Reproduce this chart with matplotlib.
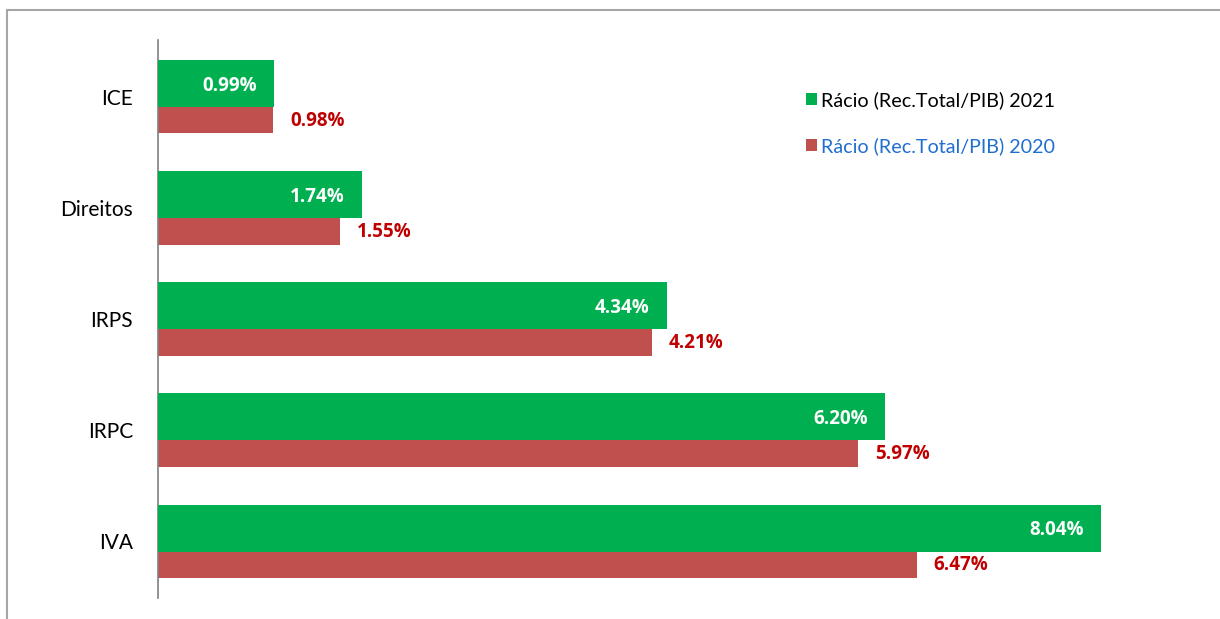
import matplotlib
matplotlib.use("Agg")
import matplotlib.pyplot as plt
from matplotlib.lines import Line2D
from matplotlib.patches import Patch
import numpy as np

categories = ["ICE", "Direitos", "IRPS", "IRPC", "IVA"]
vals_2021 = [0.99, 1.74, 4.34, 6.20, 8.04]
vals_2020 = [0.98, 1.55, 4.21, 5.97, 6.47]
labels_2021 = ["0.99%", "1.74%", "4.34%", "6.20%", "8.04%"]
labels_2020 = ["0.98%", "1.55%", "4.21%", "5.97%", "6.47%"]
series_names = ["Rácio (Rec.Total/PIB) 2021", "Rácio (Rec.Total/PIB) 2020"]

GREEN = "#00B050"
RED = "#C0504D"
DARKRED = "#C00000"
BLUE = "#1F6FD0"
FONT = "Lato"
BFONT = ["Open Sans", "DejaVu Sans"]

W, H = 1220, 619
fig = plt.figure(figsize=(W / 100, H / 100), dpi=100)
left_px, right_px = 158, 158 + 9 * 117.25
top_px, bot_px = 40, 598
ax = fig.add_axes([left_px / W, (H - bot_px) / H, (right_px - left_px) / W, (bot_px - top_px) / H])

n = len(categories)
y = np.arange(n)[::-1].astype(float)  # ICE at top
bh = 0.423
off = 0.119

ax.barh(y - off, vals_2020, height=bh, color=RED, zorder=2, label=series_names[1])
ax.barh(y + off, vals_2021, height=bh, color=GREEN, zorder=3, label=series_names[0])

pad_units = 17 / 117.25
for yi, v, t in zip(y, vals_2021, labels_2021):
    ax.text(v - pad_units, yi + off - 0.02, t, ha="right", va="center", color="white",
            fontsize=13.5, fontweight="bold", family=BFONT, zorder=4)
for yi, v, t in zip(y, vals_2020, labels_2020):
    ax.text(v + pad_units, yi - 0.215, t, ha="left", va="center", color=DARKRED,
            fontsize=13.5, fontweight="bold", family=BFONT, zorder=4)

ax.set_xlim(0, 9)
ax.set_ylim(-0.51, 4.51)
ax.set_yticks(y)
ax.set_yticklabels(categories, family=FONT, fontsize=15)
ax.tick_params(axis="y", length=0, pad=18)
ax.set_xticks([])
for s in ["top", "right", "bottom"]:
    ax.spines[s].set_visible(False)
ax.spines["left"].set_color("#808080")
ax.spines["left"].set_linewidth(1.2)

handles = [Patch(facecolor=GREEN, edgecolor="none"), Patch(facecolor=RED, edgecolor="none")]
leg = fig.legend(handles, series_names, loc="upper left",
                 bbox_to_anchor=(806 / W, (H - 91) / H), bbox_transform=fig.transFigure,
                 frameon=False, prop={"family": FONT, "size": 14.2},
                 handlelength=0.55, handleheight=0.55, handletextpad=0.2,
                 labelspacing=1.45, borderaxespad=0, borderpad=0)
leg.get_texts()[1].set_color(BLUE)

fig.add_artist(Line2D([7 / W, 1.0], [(H - 10) / H, (H - 10) / H], color="#A6A6A6", lw=1.5, transform=fig.transFigure))
fig.add_artist(Line2D([7 / W, 7 / W], [0, (H - 10) / H], color="#A6A6A6", lw=1.5, transform=fig.transFigure))

fig.savefig("out.png", dpi=100)
